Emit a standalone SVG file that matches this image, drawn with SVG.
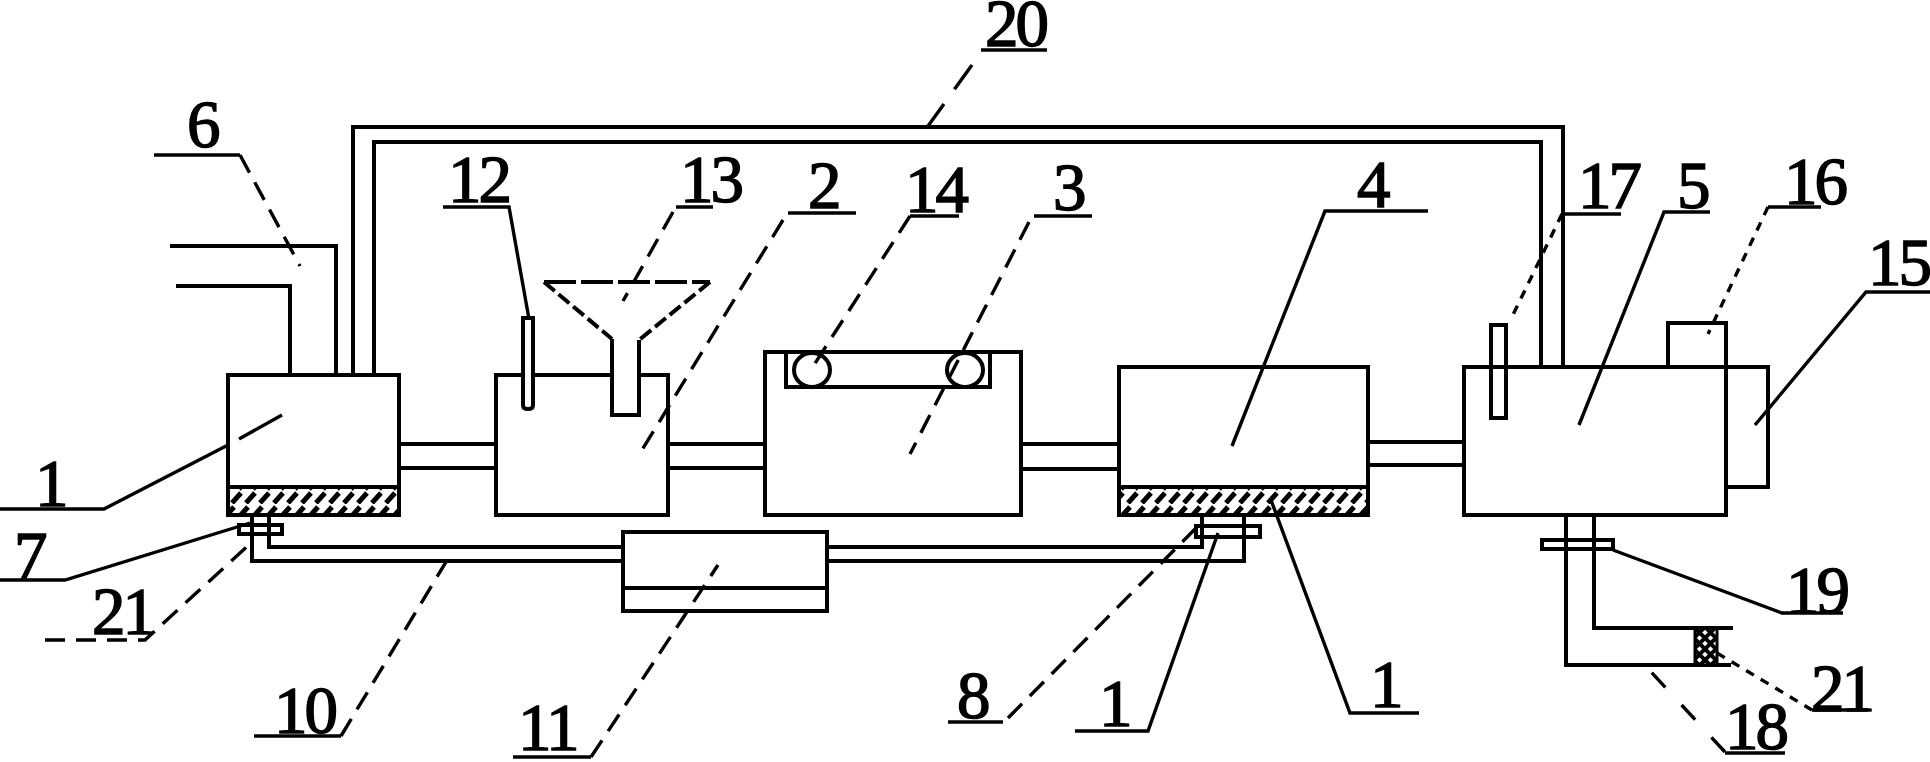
<svg xmlns="http://www.w3.org/2000/svg" width="1930" height="762" viewBox="0 0 1930 762">
<style>
.s{fill:#fff;stroke:#000;stroke-width:4}
.p{fill:none;stroke:#000;stroke-width:4}
.l{fill:none;stroke:#000;stroke-width:3.4}
.d{stroke-dasharray:20 11}
.dd{stroke-dasharray:9 8}
.t{font-family:"Liberation Serif",serif;font-size:67px;fill:#000;stroke:#000;stroke-width:1.5;letter-spacing:-3px}
</style>
<defs>
<pattern id="h" width="14" height="28" patternUnits="userSpaceOnUse">
<rect width="14" height="28" fill="#fff"/>
<path d="M1 13L10 3M8 27L17 17M-6 27L3 17" stroke="#000" stroke-width="5" fill="none"/>
</pattern>
<pattern id="x" width="11" height="11" patternUnits="userSpaceOnUse">
<rect width="11" height="11" fill="#fff"/>
<path d="M0 0L11 11M11 0L0 11" stroke="#000" stroke-width="4" fill="none"/>
</pattern>
</defs>
<rect width="1930" height="762" fill="#fff"/>
<g id="connectors">
<path class="p" d="M170 246H336V375M176 286H290V375"/>
<path class="p" d="M353 375V127H1563V367M374 375V142H1541V367"/>
<path class="p" d="M399 444H496M399 468H496"/>
<path class="p" d="M668 444H765M668 468H765"/>
<path class="p" d="M1021 444H1119M1021 469H1119"/>
<path class="p" d="M1368 442H1464M1368 465H1464"/>
<path class="p" d="M252 515V561H623M269 515V547H623"/>
<path class="p" d="M827 547H1202V515M827 561H1244V515"/>
<path class="p" d="M1566 515V665H1731M1594 515V628H1733"/>
</g>
<g id="node-1"><rect class="s" x="228" y="375" width="171" height="140"/><rect x="228" y="487" width="171" height="28" fill="url(#h)" stroke="#000" stroke-width="4"/></g>
<g id="node-2"><rect class="s" x="496" y="375" width="172" height="140"/></g>
<g id="node-3"><rect class="s" x="765" y="352" width="256" height="163"/><rect class="p" x="786" y="352" width="204" height="35"/><ellipse class="p" cx="812" cy="370" rx="18" ry="17"/><ellipse class="p" cx="965" cy="370" rx="18" ry="17"/></g>
<g id="node-4"><rect class="s" x="1119" y="367" width="249" height="148"/><rect x="1119" y="487" width="249" height="28" fill="url(#h)" stroke="#000" stroke-width="4"/></g>
<g id="node-5"><rect class="p" x="1668" y="323" width="58" height="44"/><path class="p" d="M1726 367H1768V487H1726"/><rect class="p" x="1464" y="367" width="262" height="148"/><rect class="p" x="1491" y="325" width="15" height="93"/></g>
<g id="node-11"><rect class="s" x="623" y="532" width="204" height="79"/><path class="p" d="M623 588H827"/></g>
<g id="node-12"><path class="s" d="M523 318H533V405Q533 409 528 409Q523 409 523 405Z"/></g>
<g id="node-13"><path d="M544 282H710L639 340V415H612V339Z" fill="#fff"/><path class="p" d="M544 282H710" stroke-dasharray="32 5"/><path class="p" d="M544 282L612 339M710 282L639 340" stroke-dasharray="14 5"/><path class="p" d="M612 339V415H639V340"/></g>
<g id="node-7"><rect class="p" x="239" y="525" width="43" height="9"/></g>
<g id="node-8"><rect class="p" x="1196" y="526" width="64" height="11"/></g>
<g id="node-19"><rect class="p" x="1542" y="540" width="71" height="9"/></g>
<g id="node-21"><rect x="1695" y="628" width="22" height="37" fill="url(#x)" stroke="#000" stroke-width="3"/></g>
<g id="leaders">
<path class="l" d="M154 155H240"/><path class="l d" d="M240 155L300 266"/>
<path class="l" d="M0 509H104L228 445"/><path class="l" d="M239 439L282 415"/>
<path class="l" d="M0 580H65L250 523"/>
<path class="l d" d="M45 640H145L252 542"/>
<path class="l" d="M443 207H509L529 319"/>
<path class="l" d="M676 207H713"/><path class="l d" d="M673 212L623 301"/>
<path class="l" d="M788 213H856"/><path class="l d" d="M783 220L642 450"/>
<path class="l" d="M910 216H959"/><path class="l d" d="M910 216L812 368"/>
<path class="l" d="M1034 216H1092"/><path class="l d" d="M1029 222L910 454"/>
<path class="l" d="M981 50H1047"/><path class="l" d="M972 65L923 133" stroke-dasharray="30 18"/>
<path class="l" d="M1428 211H1325L1232 446"/>
<path class="l" d="M1562 214H1621"/><path class="l dd" d="M1562 214L1510 321"/>
<path class="l" d="M1710 212H1664L1579 425"/>
<path class="l" d="M1821 207H1768"/><path class="l dd" d="M1768 207L1708 334"/>
<path class="l" d="M1930 292H1866L1755 425"/>
<path class="l" d="M1843 613H1782L1613 550"/>
<path class="l dd" d="M1717 653L1812 710"/><path class="l" d="M1812 710H1868"/>
<path class="l" d="M1785 753H1725"/><path class="l" d="M1725 752L1641 661" stroke-dasharray="20 24"/>
<path class="l" d="M254 736H341"/><path class="l d" d="M341 736L449 557"/>
<path class="l" d="M513 757H591"/><path class="l d" d="M591 757L718 565"/>
<path class="l" d="M948 722H1003"/><path class="l d" d="M1008 718L1202 522"/>
<path class="l" d="M1075 731H1148L1218 533"/>
<path class="l" d="M1419 713H1350L1271 500"/>
</g>
<g id="labels">
<text class="t" x="187" y="147">6</text>
<text class="t" x="35" y="506">1</text>
<text class="t" x="14" y="578">7</text>
<text class="t" x="92" y="634">21</text>
<text class="t" x="274" y="733">10</text>
<text class="t" x="518" y="750">11</text>
<text class="t" x="448" y="202">12</text>
<text class="t" x="680" y="202">13</text>
<text class="t" x="808" y="208">2</text>
<text class="t" x="905" y="212">14</text>
<text class="t" x="1053" y="210">3</text>
<text class="t" x="985" y="46">20</text>
<text class="t" x="1357" y="207">4</text>
<text class="t" x="1578" y="208">17</text>
<text class="t" x="1677" y="208">5</text>
<text class="t" x="1784" y="204">16</text>
<text class="t" x="1868" y="285">15</text>
<text class="t" x="1786" y="613">19</text>
<text class="t" x="1811" y="711">21</text>
<text class="t" x="1725" y="749">18</text>
<text class="t" x="957" y="718">8</text>
<text class="t" x="1099" y="726">1</text>
<text class="t" x="1370" y="707">1</text>
</g>
</svg>
